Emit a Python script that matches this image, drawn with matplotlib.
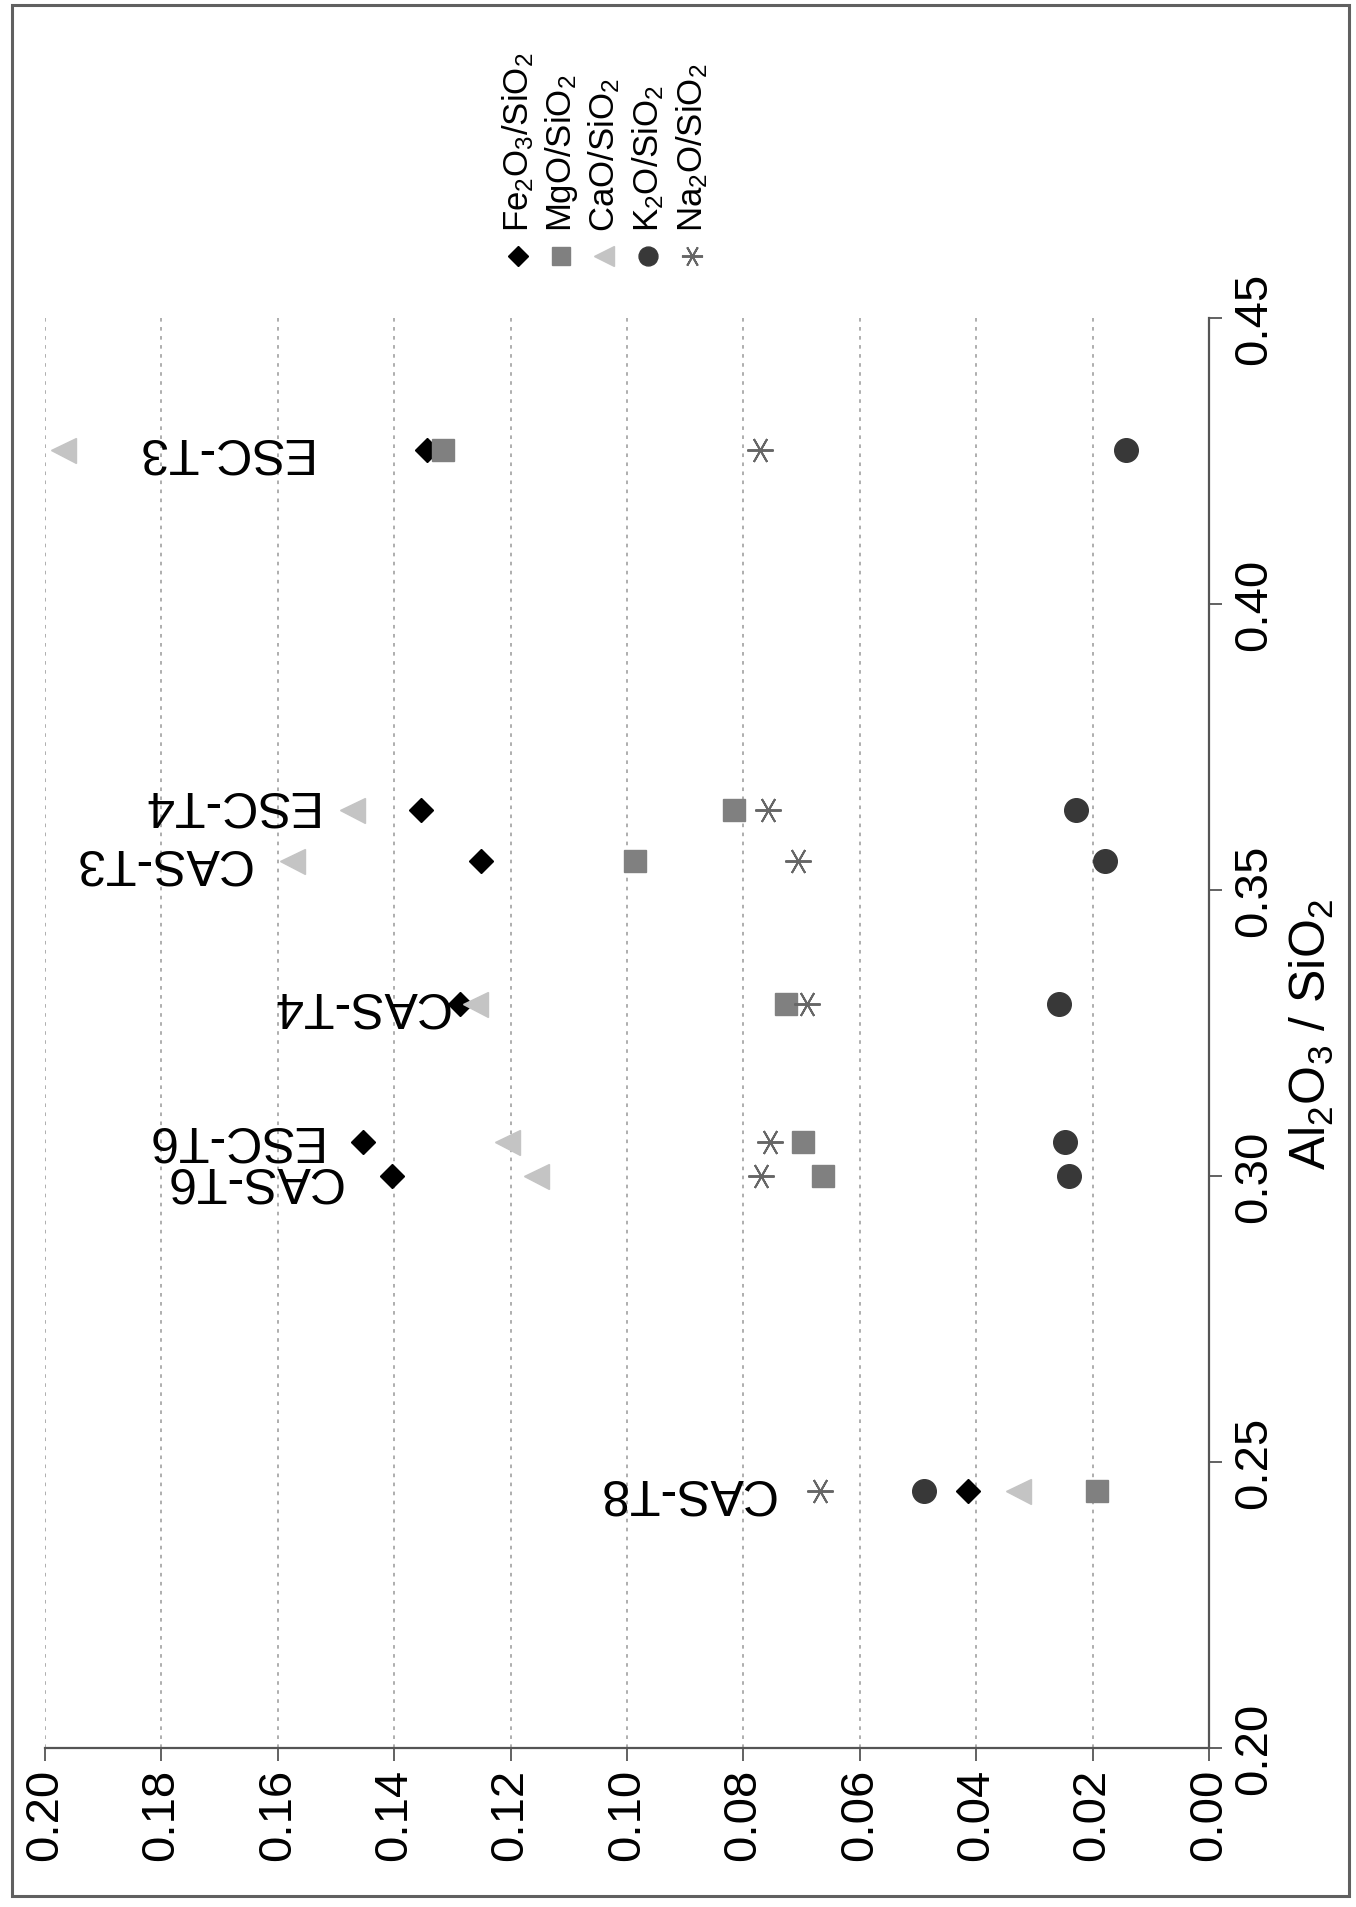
import numpy as np
import matplotlib
matplotlib.use('Agg')
import matplotlib.pyplot as plt
from matplotlib.patches import Rectangle
from matplotlib.lines import Line2D

plt.rcParams['font.family'] = ['Liberation Sans', 'DejaVu Sans']
plt.rcParams['mathtext.fontset'] = 'custom'
plt.rcParams['mathtext.rm'] = 'Liberation Sans'
plt.rcParams['mathtext.it'] = 'Liberation Sans'
plt.rcParams['mathtext.bf'] = 'Liberation Sans:bold'

# ---------------- data ----------------
samples = ['CAS-T8', 'CAS-T6', 'ESC-T6', 'CAS-T4', 'CAS-T3', 'ESC-T4', 'ESC-T3']
al2o3_sio2 = [0.245, 0.300, 0.306, 0.330, 0.355, 0.364, 0.427]
fe2o3_sio2 = [0.0414, 0.1404, 0.1454, 0.1287, 0.1251, 0.1354, 0.1343]
mgo_sio2 = [0.0192, 0.0663, 0.0697, 0.0726, 0.0987, 0.0816, 0.1316]
cao_sio2 = [0.0328, 0.1157, 0.1207, 0.1261, 0.1575, 0.1473, 0.1969]
k2o_sio2 = [0.0490, 0.0241, 0.0247, 0.0257, 0.0178, 0.0228, 0.0142]
na2o_sio2 = [0.0669, 0.0770, 0.0755, 0.0690, 0.0707, 0.0757, 0.0772]

series_names = [r'Fe$_2$O$_3$/SiO$_2$', r'MgO/SiO$_2$', r'CaO/SiO$_2$',
                r'K$_2$O/SiO$_2$', r'Na$_2$O/SiO$_2$']
value_ticks = [0.00, 0.02, 0.04, 0.06, 0.08, 0.10, 0.12, 0.14, 0.16, 0.18, 0.20]
ratio_ticks = [0.20, 0.25, 0.30, 0.35, 0.40, 0.45]

# label centre positions (value axis) for sample names
label_value_pos = [0.0899, 0.1643, 0.1680, 0.1460, 0.1800, 0.1687, 0.1698]
label_ratio_pos = [0.245, 0.2994, 0.3066, 0.330, 0.355, 0.3652, 0.427]

# ---------------- styles ----------------
styles = [
    dict(marker='D', ms=12.5, color='black', mec='black'),
    dict(marker='s', ms=16, color='#808080', mec='#808080'),
    dict(marker='<', ms=18, color='#c4c4c4', mec='#c4c4c4'),
    dict(marker='o', ms=17, color='#383838', mec='#383838'),
    dict(marker=(6, 2, 90), ms=19, color='#666666', mec='#666666', mew=1.4),
]
series = [fe2o3_sio2, mgo_sio2, cao_sio2, k2o_sio2, na2o_sio2]

W, H = 1356, 1908
fig = plt.figure(figsize=(W / 100, H / 100), dpi=100)
ax = fig.add_axes([45 / W, 1 - 1749 / H, (1209 - 45) / W, (1749 - 319) / H])

for vals, st in zip(series, styles):
    ax.plot(vals, al2o3_sio2, linestyle='none', zorder=3, **st)

ax.set_xlim(0.20, 0.00)
ax.set_ylim(0.20, 0.45)
ax.set_xticks(value_ticks)
ax.set_xticklabels([f'{v:.2f}' for v in value_ticks])
ax.set_yticks(ratio_ticks)
ax.set_yticklabels([f'{v:.2f}' for v in ratio_ticks])

ax.yaxis.tick_right()
ax.yaxis.set_label_position('right')
ax.tick_params(axis='x', direction='out', length=9, width=1.3, color='#555555',
               labelsize=34, labelrotation=90, pad=5)
ax.tick_params(axis='y', direction='out', length=9, width=1.3, color='#555555',
               labelsize=34, labelrotation=90, pad=8)
for lab in ax.get_yticklabels():
    lab.set_verticalalignment('center')

for s in ['left', 'top']:
    ax.spines[s].set_visible(False)
for s in ['right', 'bottom']:
    ax.spines[s].set_color('#555555')
    ax.spines[s].set_linewidth(1.6)

ax.grid(axis='x', linestyle=(0, (2, 3)), color='#a8a8a8', linewidth=1.3, zorder=0)
ax.set_axisbelow(True)

ax.set_ylabel(r'Al$_2$O$_3$ / SiO$_2$', fontsize=36, rotation=90, labelpad=8)

for name, xv, yv in zip(samples, label_value_pos, label_ratio_pos):
    ax.text(xv, yv, name, rotation=180, ha='center', va='center', fontsize=36, zorder=4)

# manual legend (rotated)
leg_x = [518, 561, 604, 648, 692]
for px, nm, st in zip(leg_x, series_names, styles):
    st2 = dict(st)
    st2['ms'] = st['ms'] * 0.8
    fig.add_artist(Line2D([px / W], [1 - 257 / H], transform=fig.transFigure,
                          linestyle='none', **st2))
    fig.text(px / W, 1 - 232 / H, nm, rotation=90, ha='center', va='bottom', fontsize=25)

# outer frame
fig.add_artist(Rectangle((12 / W, 1 - 1897 / H), (1349 - 12) / W, (1897 - 6) / H,
                         transform=fig.transFigure, fill=False, edgecolor='#606060',
                         linewidth=2.2))

fig.savefig('out.png', dpi=100)
